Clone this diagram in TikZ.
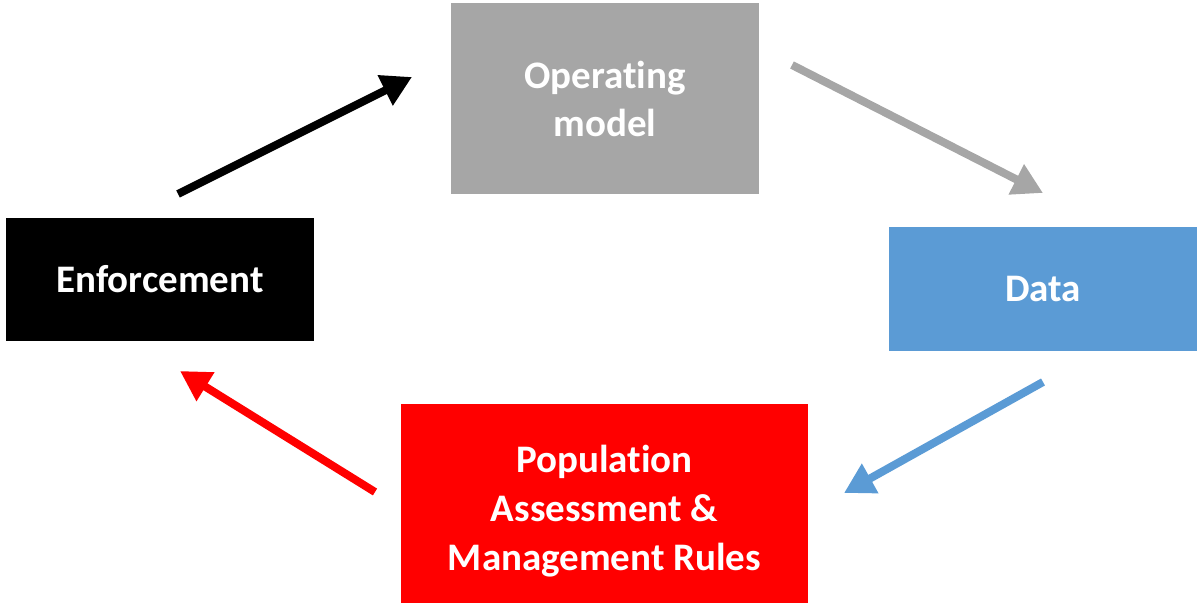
\documentclass[tikz,border=0pt]{standalone}
\usepackage{fontspec}
\setmainfont[Ligatures=NoCommon]{Carlito}
\usetikzlibrary{arrows.meta}
\definecolor{opgray}{HTML}{A6A6A6}
\definecolor{datablue}{HTML}{5B9BD5}
\definecolor{popred}{HTML}{FF0000}
\tikzset{
  boxnode/.style={inner sep=0pt, text=white, font=\fontsize{39}{48}\selectfont\bfseries, align=center},
  flow/.style={line width=8pt, -{Triangle[length=30pt,width=32pt]}}
}
\begin{document}
\begin{tikzpicture}[x=1pt,y=1pt]
\useasboundingbox (0,0) rectangle (1197,605);
\node[boxnode, fill=opgray, minimum width=308pt, minimum height=191pt] (op) at (605,506.5) {Operating\\model};
\node[boxnode, fill=datablue, minimum width=308pt, minimum height=124pt] (data) at (1043,316) {Data};
\node[boxnode, fill=black, minimum width=308pt, minimum height=123pt] (enf) at (160,325.5) {Enforcement};
\node[boxnode, fill=popred, minimum width=407pt, minimum height=199pt] (pop) at (604.5,101.5) {};
\node[boxnode, font=\fontsize{39}{49}\selectfont\bfseries] (poptxt) at ([yshift=-8pt]pop.center) {Population\\Assessment \&\\Management Rules};
\coordinate (a1s) at (178,411);
\coordinate (a1e) at (412,528);
\coordinate (a2s) at (792,540);
\coordinate (a2e) at (1043,412);
\coordinate (a3s) at (1043,223);
\coordinate (a3e) at (844,112);
\coordinate (a4s) at (375,113);
\coordinate (a4e) at (180,234);
\draw[flow, black] (a1s) -- (a1e);
\draw[flow, opgray] (a2s) -- (a2e);
\draw[flow, datablue] (a3s) -- (a3e);
\draw[flow, popred] (a4s) -- (a4e);
\end{tikzpicture}
\end{document}
